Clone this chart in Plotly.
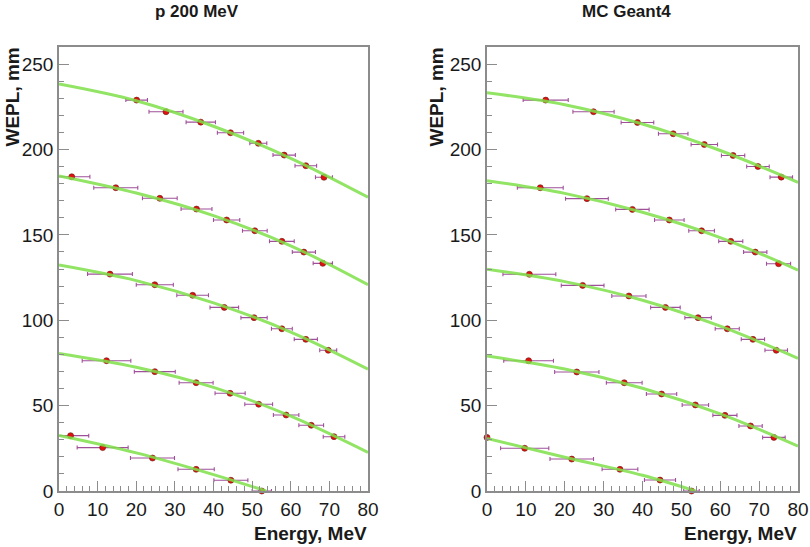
import plotly.graph_objects as go

W, H = 810, 547

# ---------------- data ----------------
panel_titles = ["p 200 MeV", "MC Geant4"]
x_title = "Energy, MeV"
y_title = "WEPL, mm"

# Left panel: p 200 MeV (measured points, x = energy, y = WEPL, ex = energy spread)
left_x = [
    [20.1, 27.7, 36.7, 44.4, 51.6, 58.3, 63.9, 68.6],
    [3.3, 14.7, 26.1, 35.6, 43.4, 50.7, 57.7, 63.4, 68.3],
    [13.2, 24.8, 34.6, 42.8, 50.5, 57.7, 63.9, 69.7],
    [12.3, 24.8, 35.5, 44.3, 51.7, 58.8, 65.3, 71.2],
    [3.0, 11.3, 24.2, 35.5, 44.5, 52.5],
]
left_y = [
    [228.9, 222.1, 216.0, 209.8, 203.6, 196.7, 190.5, 183.7],
    [184.0, 177.6, 171.4, 165.1, 158.7, 152.4, 146.2, 139.9, 133.3],
    [127.0, 120.8, 114.6, 107.5, 101.5, 95.0, 88.8, 82.4],
    [76.3, 69.9, 63.4, 57.2, 50.8, 44.5, 38.5, 31.8],
    [32.4, 25.4, 19.3, 12.7, 6.3, 0.0],
]
left_ex = [
    [2.8, 4.4, 3.8, 3.4, 2.2, 2.9, 2.8, 2.2],
    [4.7, 5.7, 4.5, 4.0, 3.4, 3.2, 3.2, 3.0, 2.5],
    [5.8, 4.8, 4.1, 3.7, 3.4, 2.7, 3.0, 2.2],
    [6.3, 5.3, 4.4, 3.9, 3.6, 3.3, 3.2, 2.8],
    [4.7, 6.6, 5.7, 4.7, 4.4, 2.5],
]
# Left panel fit curves
left_fit_x = [
    [0, 20, 40, 60, 80],
    [0, 20, 40, 60, 80],
    [0, 20, 40, 60, 80],
    [0, 20, 40, 60, 80],
    [0, 20, 40, 53.6],
]
left_fit_y = [
    [238.3, 228.5, 213.6, 194.8, 172.0],
    [184.5, 174.5, 161.3, 143.6, 120.8],
    [132.3, 123.2, 110.2, 93.1, 71.4],
    [80.6, 72.5, 60.7, 43.8, 22.6],
    [32.5, 22.3, 9.6, 0.0],
]

# Right panel: MC Geant4
right_x = [
    [15.1, 27.4, 38.7, 47.9, 55.9, 63.3, 69.7, 75.7],
    [13.7, 25.7, 37.4, 46.9, 55.2, 62.7, 69.0, 75.0],
    [10.9, 24.6, 36.5, 45.9, 54.3, 61.8, 68.4, 74.4],
    [10.7, 23.1, 35.3, 44.9, 53.6, 61.2, 67.8, 73.8],
    [0.0, 9.7, 21.8, 34.2, 44.5, 52.6],
]
right_y = [
    [228.9, 222.1, 215.8, 209.2, 202.9, 196.5, 190.0, 183.8],
    [177.6, 171.2, 164.9, 158.7, 152.4, 146.2, 139.9, 133.1],
    [126.9, 120.4, 114.2, 107.5, 101.5, 95.0, 88.8, 82.4],
    [76.3, 69.7, 63.4, 56.8, 50.4, 44.3, 38.1, 31.4],
    [31.4, 25.0, 18.7, 12.7, 6.4, 0.0],
]
right_ex = [
    [5.8, 5.3, 4.2, 3.8, 3.4, 3.0, 2.9, 2.9],
    [5.9, 5.5, 4.3, 3.8, 3.3, 3.1, 3.0, 3.1],
    [6.8, 5.5, 4.4, 3.8, 3.4, 3.1, 3.0, 2.9],
    [6.4, 5.7, 4.6, 3.9, 3.4, 3.1, 3.0, 2.9],
    [0.0, 6.2, 5.6, 4.6, 4.0, 2.0],
]
right_fit_x = [
    [0, 20, 40, 60, 80],
    [0, 20, 40, 60, 80],
    [0, 20, 40, 60, 80],
    [0, 20, 40, 60, 80],
    [0, 20, 40, 53.6],
]
right_fit_y = [
    [233.2, 226.2, 214.9, 199.4, 180.7],
    [181.7, 174.3, 163.2, 148.4, 129.4],
    [129.8, 122.6, 111.7, 96.5, 77.7],
    [79.0, 71.4, 60.2, 45.2, 26.3],
    [30.8, 19.8, 9.2, 0.0],
]

x_tickvals = [0, 10, 20, 30, 40, 50, 60, 70, 80]
y_tickvals = [0, 50, 100, 150, 200, 250]

# ---------------- styling ----------------
FONT = "Liberation Sans, Arial, Helvetica, sans-serif"
POINT_RED = "#e01010"
BAR_COL = "#a0509a"
FIT_GREEN = "#7fe04a"
FRAME = "#8c8c8c"


def px_x(p):
    return p / W


def px_y(p):
    return 1 - p / H


fig = go.Figure()

panels = [
    (left_x, left_y, left_ex, left_fit_x, left_fit_y, "x", "y"),
    (right_x, right_y, right_ex, right_fit_x, right_fit_y, "x2", "y2"),
]

for xs, ys, exs, fxs, fys, xa, ya in panels:
    for xv, yv, ev in zip(xs, ys, exs):
        fig.add_trace(go.Scatter(
            x=xv, y=yv, mode="markers", xaxis=xa, yaxis=ya,
            marker=dict(color=POINT_RED, size=6, line=dict(color="#6a1a10", width=0.6)),
            error_x=dict(type="data", array=ev, visible=True, color=BAR_COL,
                         thickness=1.1, width=2),
            cliponaxis=False, showlegend=False, hoverinfo="x+y",
        ))
    for fx, fy in zip(fxs, fys):
        fig.add_trace(go.Scatter(
            x=fx, y=fy, mode="lines", xaxis=xa, yaxis=ya,
            line=dict(color=FIT_GREEN, width=3, shape="spline", smoothing=1.0),
            opacity=0.85, showlegend=False, hoverinfo="skip",
        ))

ax_common = dict(
    showgrid=False, zeroline=False, showline=True, linecolor=FRAME, linewidth=1.5,
    mirror=True, ticks="inside", tickcolor=FRAME, tickwidth=1, automargin=False,
    tickfont=dict(family=FONT, size=19, color="#1a1a1a"),
)

x_dom_l = [px_x(59), px_x(368)]
x_dom_r = [px_x(487), px_x(798)]
y_dom = [px_y(491), px_y(47)]

fig.update_layout(
    width=W, height=H,
    margin=dict(l=0, r=0, t=0, b=0, autoexpand=False),
    paper_bgcolor="white", plot_bgcolor="white",
    xaxis=dict(domain=x_dom_l, range=[0, 80], tickvals=x_tickvals, ticklen=10,
               minor=dict(ticks="inside", dtick=2, ticklen=5, tickcolor=FRAME),
               anchor="y", **ax_common),
    yaxis=dict(domain=y_dom, range=[0, 260], tickvals=y_tickvals, ticklen=10,
               minor=dict(ticks="inside", dtick=10, ticklen=5, tickcolor=FRAME),
               anchor="x", **ax_common),
    xaxis2=dict(domain=x_dom_r, range=[0, 80], tickvals=x_tickvals, ticklen=10,
                minor=dict(ticks="inside", dtick=2, ticklen=5, tickcolor=FRAME),
                anchor="y2", **ax_common),
    yaxis2=dict(domain=y_dom, range=[0, 260], tickvals=y_tickvals, ticklen=10,
                minor=dict(ticks="inside", dtick=10, ticklen=5, tickcolor=FRAME),
                anchor="x2", **ax_common),
)

bold = dict(family=FONT, size=19, color="#1a1a1a")
title_font = dict(family=FONT, size=17, color="#1a1a1a")
annots = [
    dict(text="<b>%s</b>" % panel_titles[0], x=px_x(197), y=px_y(11),
         xanchor="center", yanchor="middle", font=title_font),
    dict(text="<b>%s</b>" % panel_titles[1], x=px_x(626), y=px_y(11),
         xanchor="center", yanchor="middle", font=title_font),
    dict(text="<b>%s</b>" % y_title, x=px_x(12), y=px_y(46), textangle=-90,
         xanchor="center", yanchor="top", font=bold),
    dict(text="<b>%s</b>" % y_title, x=px_x(436), y=px_y(46), textangle=-90,
         xanchor="center", yanchor="top", font=bold),
    dict(text="<b>%s</b>" % x_title, x=px_x(369), y=px_y(533),
         xanchor="right", yanchor="middle", font=bold),
    dict(text="<b>%s</b>" % x_title, x=px_x(799), y=px_y(533),
         xanchor="right", yanchor="middle", font=bold),
]
for a in annots:
    a.update(xref="paper", yref="paper", showarrow=False)
fig.update_layout(annotations=annots)

# remove the default 8px page margin so the 810x547 figure fills the window exactly
fig.write_html(
    "out.html",
    config={"displayModeBar": False},
    post_script="document.body.style.margin='0px';document.body.style.overflow='hidden';",
)
